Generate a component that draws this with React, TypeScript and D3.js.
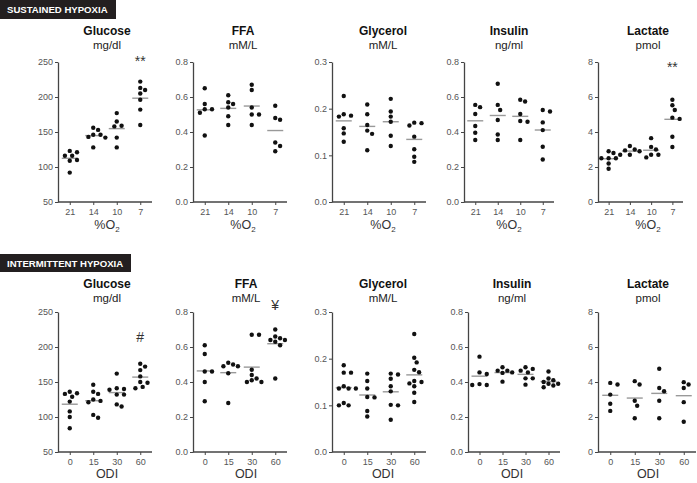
import React, { useEffect, useRef } from "react";
import * as d3 from "d3";

const metrics = ["Glucose", "FFA", "Glycerol", "Insulin", "Lactate"];
const units = ["mg/dl", "mM/L", "mM/L", "ng/ml", "pmol"];
const o2Levels = ["21", "14", "10", "7"];
const odiLevels = ["0", "15", "30", "60"];

const glucoseTicks = [50, 100, 150, 200, 250];
const ffaTicks = [0, 0.2, 0.4, 0.6, 0.8];
const glycerolTicks = [0, 0.1, 0.2, 0.3];
const insulinTicks = [0, 0.2, 0.4, 0.6, 0.8];
const lactateTicks = [0, 2, 4, 6, 8];

// sustained hypoxia, one list per %O2 group
const shGlucose = [
  [123, 121, 116, 116, 110, 109, 92],
  [156, 153, 146, 146, 143, 142, 128],
  [177, 165, 159, 158, 142, 128],
  [222, 213, 210, 205, 196, 182, 160],
];
const shFFA = [
  [0.65, 0.56, 0.53, 0.53, 0.51, 0.38],
  [0.61, 0.57, 0.56, 0.54, 0.49, 0.44],
  [0.67, 0.64, 0.54, 0.5, 0.5, 0.44],
  [0.55, 0.48, 0.47, 0.34, 0.32, 0.29],
];
const shGlycerol = [
  [0.227, 0.188, 0.185, 0.183, 0.158, 0.147, 0.129],
  [0.209, 0.188, 0.165, 0.153, 0.146, 0.111],
  [0.221, 0.194, 0.183, 0.172, 0.142, 0.12],
  [0.17, 0.169, 0.164, 0.14, 0.113, 0.097, 0.086],
];
const shInsulin = [
  [0.555, 0.542, 0.503, 0.434, 0.396, 0.354],
  [0.676, 0.555, 0.526, 0.469, 0.386, 0.354],
  [0.584, 0.574, 0.503, 0.463, 0.459, 0.354],
  [0.526, 0.517, 0.455, 0.411, 0.316, 0.243],
];
const shLactate = [
  [2.9, 2.8, 2.5, 2.5, 2.5, 2.2, 1.9],
  [3.2, 3.0, 2.95, 2.9, 2.7, 2.7],
  [3.65, 3.15, 3.0, 2.7, 2.7, 2.55],
  [5.84, 5.53, 5.26, 4.82, 4.75, 3.73, 3.14],
];

// intermittent hypoxia, one list per ODI group
const ihGlucose = [
  [136, 134, 133, 129, 122, 108, 100, 84],
  [146, 136, 133, 125, 123, 121, 103, 99],
  [162, 141, 140, 139, 132, 132, 118, 115],
  [176, 172, 167, 158, 150, 149, 143, 141],
];
const ihFFA = [
  [0.61, 0.56, 0.46, 0.46, 0.4, 0.29],
  [0.51, 0.5, 0.49, 0.49, 0.45, 0.28],
  [0.67, 0.67, 0.47, 0.44, 0.42, 0.41, 0.4, 0.4],
  [0.7, 0.66, 0.65, 0.64, 0.64, 0.63, 0.61, 0.42],
];
const ihGlycerol = [
  [0.186, 0.17, 0.17, 0.141, 0.136, 0.136, 0.136, 0.105, 0.1, 0.1],
  [0.168, 0.152, 0.136, 0.118, 0.117, 0.088, 0.076],
  [0.168, 0.166, 0.157, 0.141, 0.13, 0.101, 0.1, 0.069],
  [0.253, 0.202, 0.192, 0.176, 0.171, 0.152, 0.15, 0.147, 0.141, 0.127, 0.107],
];
const ihInsulin = [
  [0.545, 0.455, 0.446, 0.388, 0.383, 0.383],
  [0.484, 0.465, 0.465, 0.455, 0.452, 0.402],
  [0.484, 0.475, 0.465, 0.455, 0.421, 0.421, 0.385],
  [0.46, 0.42, 0.41, 0.4, 0.39, 0.39, 0.38, 0.37],
];
const ihLactate = [
  [3.95, 3.86, 3.28, 2.76, 2.35],
  [4.05, 3.86, 2.93, 2.64, 1.93],
  [4.76, 3.66, 3.47, 2.93, 1.93],
  [3.99, 3.86, 3.66, 2.85, 1.73],
];

const sustainedMarks = ["**", "", "", "", "**"];
const intermittentMarks = ["#", "¥", "", "", ""];

const yTicks = [glucoseTicks, ffaTicks, glycerolTicks, insulinTicks, lactateTicks];
const yFormats = ["d", ".1f", ".1f", ".1f", "d"];

const font = "'Liberation Sans', Arial, sans-serif";

// layout of the two rows (pixels)
const rows = [
  {
    header: "SUSTAINED HYPOXIA", headerY: 0, headerW: 116, headerH: 19,
    groups: o2Levels, data: [shGlucose, shFFA, shGlycerol, shInsulin, shLactate],
    marks: sustainedMarks, markY: [66, 0, 0, 0, 72],
    xLabel: "%O", xSub: "2",
    top: 62, bottom: 202, titleY: 35, unitY: 49, labelY: 229,
    lefts: [58, 193, 332, 464, 598], widths: [94, 94, 94, 90, 85],
    titleX: [107, 243, 383, 509, 648],
  },
  {
    header: "INTERMITTENT HYPOXIA", headerY: 254, headerW: 131, headerH: 18,
    groups: odiLevels, data: [ihGlucose, ihFFA, ihGlycerol, ihInsulin, ihLactate],
    marks: intermittentMarks, markY: [342, 310, 0, 0, 0],
    xLabel: "ODI", xSub: "",
    top: 312, bottom: 452, titleY: 288, unitY: 302, labelY: 478,
    lefts: [58, 193, 332, 468, 598], widths: [94, 94, 94, 92, 98],
    titleX: [107, 246, 383, 512, 648],
  },
];

// simple deterministic beeswarm so dots sit side by side like in the figure
function swarm(vals, y, cx, r) {
  const pts = vals.map(v => ({ v, y: y(v), x: cx }));
  const sorted = [...pts].sort((a, b) => a.y - b.y);
  const placed = [];
  const gap = 2 * r + 0.7;
  const step = r * 1.1;
  for (const p of sorted) {
    for (let k = 0; k < 40; k++) {
      const off = (k % 2 === 1 ? 1 : -1) * Math.ceil(k / 2) * step;
      const x = cx + off;
      if (placed.every(q => Math.hypot(q.x - x, q.y - p.y) >= gap)) {
        p.x = x;
        break;
      }
    }
    placed.push(p);
  }
  return pts;
}

function Figure() {
  const svgNode = useRef(null);

  useEffect(() => {
    const svg = d3.select(svgNode.current);
    svg.selectAll("*").remove();

    rows.forEach(row => {
      // black header tab
      svg.append("rect")
        .attr("x", 0).attr("y", row.headerY)
        .attr("width", row.headerW).attr("height", row.headerH)
        .attr("fill", "#231f20");
      svg.append("text")
        .attr("x", 7).attr("y", row.headerY + row.headerH / 2 + 3.5)
        .attr("fill", "#fff").attr("font-family", font)
        .attr("font-weight", "bold").attr("font-size", 9.6)
        .text(row.header);

      metrics.forEach((m, i) => {
        const ticks = yTicks[i];
        const y = d3.scaleLinear()
          .domain([ticks[0], ticks[ticks.length - 1]])
          .range([row.bottom, row.top]);
        const x = d3.scalePoint()
          .domain(row.groups)
          .range([row.lefts[i], row.lefts[i] + row.widths[i]])
          .padding(0.5);

        const g = svg.append("g");

        // title and unit
        g.append("text")
          .attr("x", row.titleX[i]).attr("y", row.titleY)
          .attr("text-anchor", "middle").attr("font-family", font)
          .attr("font-weight", "bold").attr("font-size", 12).attr("fill", "#111")
          .text(m);
        g.append("text")
          .attr("x", row.titleX[i]).attr("y", row.unitY)
          .attr("text-anchor", "middle").attr("font-family", font)
          .attr("font-size", 11.5).attr("fill", "#222")
          .text(units[i]);

        // axes
        const yAxis = g.append("g")
          .attr("transform", `translate(${row.lefts[i]},0)`)
          .call(d3.axisLeft(y).tickValues(ticks).tickFormat(d3.format(yFormats[i]))
            .tickSize(3).tickSizeOuter(0).tickPadding(2));
        const xAxis = g.append("g")
          .attr("transform", `translate(0,${row.bottom})`)
          .call(d3.axisBottom(x).tickSize(3).tickSizeOuter(0).tickPadding(4));
        [yAxis, xAxis].forEach(a => {
          a.select(".domain").attr("stroke", "#444").attr("stroke-width", 1.3);
          a.selectAll(".tick line").attr("stroke", "#444").attr("stroke-width", 1);
          a.selectAll(".tick text").attr("font-family", font)
            .attr("font-size", 9).attr("fill", "#555");
        });
        // x axis starts at the y axis
        xAxis.select(".domain")
          .attr("d", `M${row.lefts[i]},0H${row.lefts[i] + row.widths[i]}`);

        // x axis label
        const lab = g.append("text")
          .attr("x", row.titleX[i]).attr("y", row.labelY)
          .attr("text-anchor", "middle").attr("font-family", font)
          .attr("font-size", 12.5).attr("fill", "#333")
          .text(row.xLabel);
        if (row.xSub) {
          lab.append("tspan").attr("font-size", 8).attr("dy", 3).text(row.xSub);
        }

        // dots and mean lines
        row.data[i].forEach((vals, j) => {
          const cx = x(row.groups[j]);
          const mean = d3.mean(vals);
          g.append("line")
            .attr("x1", cx - 8).attr("x2", cx + 8)
            .attr("y1", y(mean)).attr("y2", y(mean))
            .attr("stroke", "#999").attr("stroke-width", 1.4);
          g.selectAll(null)
            .data(swarm(vals, y, cx, 2.2))
            .join("circle")
            .attr("cx", d => d.x).attr("cy", d => d.y)
            .attr("r", 2.2).attr("fill", "#111");
        });

        // significance marks on the last group
        if (row.marks[i]) {
          g.append("text")
            .attr("x", x(row.groups[3])).attr("y", row.markY[i])
            .attr("text-anchor", "middle").attr("font-family", font)
            .attr("font-size", 14).attr("fill", "#333")
            .text(row.marks[i]);
        }
      });
    });
  }, []);

  return (
    <svg ref={svgNode} width={697} height={483}
      style={{ position: "absolute", left: 0, top: 0, background: "#fff" }} />
  );
}

export default function App() {
  return <Figure />;
}
